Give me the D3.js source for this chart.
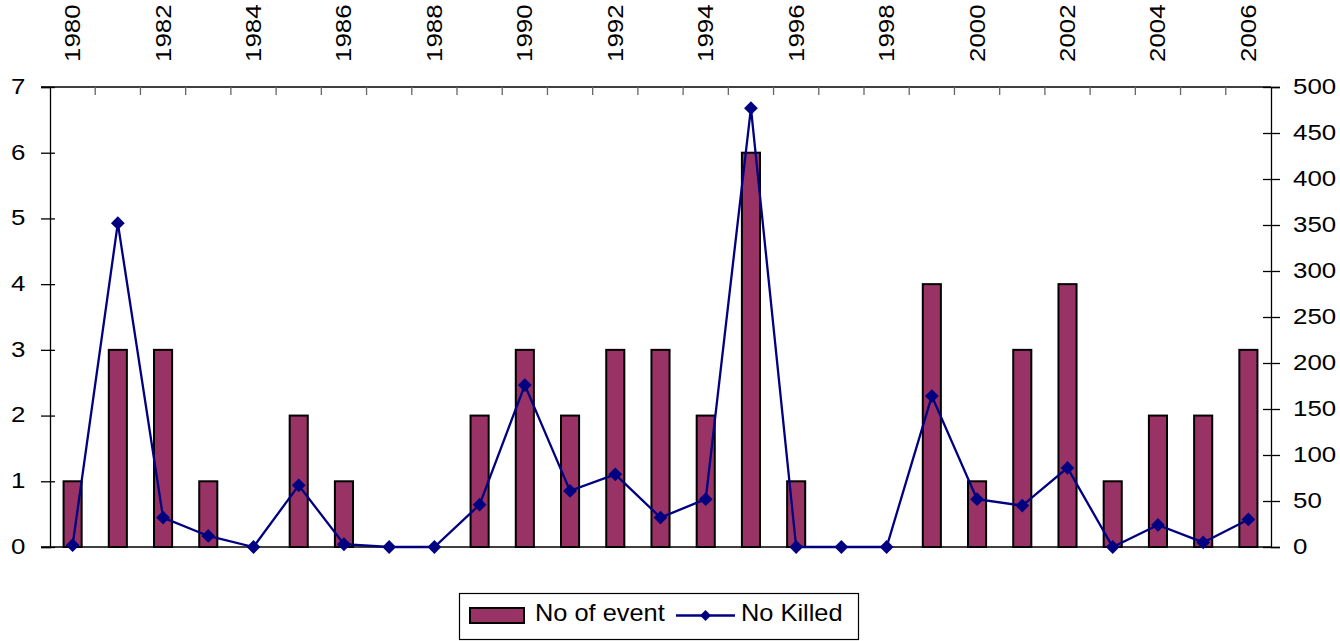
<!DOCTYPE html>
<html>
<head>
<meta charset="utf-8">
<script src="https://cdn.jsdelivr.net/npm/d3@7/dist/d3.min.js"></script>
<style>
  body { margin: 0; background: #fff; }
  svg text { font-family: "Liberation Sans", Arial, sans-serif; fill: #000; }
</style>
</head>
<body>
<svg id="chart" width="1340" height="641"></svg>
<script>
var years = d3.range(1980, 2007).map(String);
var events = [1, 3, 3, 1, 0, 2, 1, 0, 0, 2, 3, 2, 3, 3, 2, 6, 1, 0, 0, 4, 1, 3, 4, 1, 2, 2, 3];
var killed = [2, 352, 32, 12, 0, 67, 3, 0, 0, 46, 176, 61, 79, 32, 52, 477, 0, 0, 0, 164, 52, 45, 86, 0, 24, 5, 30];
var leftTicks = [0, 1, 2, 3, 4, 5, 6, 7];
var rightTicks = [0, 50, 100, 150, 200, 250, 300, 350, 400, 450, 500];

var plotL = 50, plotR = 1271, plotT = 87, plotB = 547;
var fs = 22.5, sx = 1.15; // tick font size and horizontal stretch
var svg = d3.select("#chart");

var x = d3.scaleBand().domain(years).range([plotL, plotR]).padding(0);
var yL = d3.scaleLinear().domain([0, 7]).range([plotB, plotT]);
var yR = d3.scaleLinear().domain([0, 500]).range([plotB, plotT]);

// bottom baseline
svg.append("line")
  .attr("x1", plotL - 9).attr("x2", plotR)
  .attr("y1", plotB).attr("y2", plotB)
  .attr("stroke", "#000").attr("stroke-width", 1.3);

// bars
var bw = x.bandwidth() * 0.4;
svg.append("g").selectAll("rect")
  .data(events)
  .enter().append("rect")
  .attr("x", function (d, i) { return x(years[i]) + (x.bandwidth() - bw) / 2; })
  .attr("y", function (d) { return yL(d); })
  .attr("width", bw)
  .attr("height", function (d) { return plotB - yL(d); })
  .attr("fill", "#993366")
  .attr("stroke", "#000")
  .attr("stroke-width", 2)
  .style("display", function (d) { return d === 0 ? "none" : null; });

// top axis line + ticks between categories
svg.append("line")
  .attr("x1", plotL - 9).attr("x2", plotR)
  .attr("y1", plotT).attr("y2", plotT)
  .attr("stroke", "#000").attr("stroke-width", 1.3);
svg.append("g").selectAll("line")
  .data(years.slice(1))
  .enter().append("line")
  .attr("x1", function (d) { return x(d); })
  .attr("x2", function (d) { return x(d); })
  .attr("y1", plotT).attr("y2", plotT + 8)
  .attr("stroke", "#666").attr("stroke-width", 1.3);

// year labels (even years)
svg.append("g").selectAll("text")
  .data(years.filter(function (d) { return +d % 2 === 0; }))
  .enter().append("text")
  .attr("transform", function (d) {
    return "translate(" + (x(d) + x.bandwidth() / 2 + 7.5) + "," + 62 + ") rotate(-90) scale(" + sx + ",1)";
  })
  .attr("font-size", fs)
  .text(function (d) { return d; });

// left axis
var gl = svg.append("g")
  .attr("transform", "translate(" + plotL + ",0)")
  .call(d3.axisLeft(yL).tickValues(leftTicks).tickSize(9).tickFormat(d3.format("d")));
gl.select(".domain").attr("stroke", "#000").attr("stroke-width", 1.3);
gl.selectAll(".tick line").attr("x1", 5).attr("stroke", "#000").attr("stroke-width", 1.3);
gl.selectAll(".tick text")
  .attr("font-size", fs).attr("font-family", "Liberation Sans, Arial, sans-serif")
  .attr("x", -24.7 / sx).attr("dy", "0.28em")
  .attr("transform", "scale(" + sx + ",1)");

// right axis
var gr = svg.append("g")
  .attr("transform", "translate(" + plotR + ",0)")
  .call(d3.axisRight(yR).tickValues(rightTicks).tickSize(9));
gr.select(".domain").attr("stroke", "#000").attr("stroke-width", 1.3);
gr.selectAll(".tick line").attr("x1", -8).attr("stroke", "#000").attr("stroke-width", 1.3);
gr.selectAll(".tick text")
  .attr("font-size", fs).attr("font-family", "Liberation Sans, Arial, sans-serif")
  .attr("x", 22 / sx).attr("dy", "0.28em")
  .attr("transform", "scale(" + sx + ",1)");

// killed line
var cx = function (d, i) { return x(years[i]) + x.bandwidth() / 2; };
svg.append("path")
  .datum(killed)
  .attr("fill", "none")
  .attr("stroke", "#000080")
  .attr("stroke-width", 2.3)
  .attr("d", d3.line().x(cx).y(function (d) { return yR(d); }));

svg.append("g").selectAll("path")
  .data(killed)
  .enter().append("path")
  .attr("transform", function (d, i) { return "translate(" + cx(d, i) + "," + yR(d) + ") rotate(45)"; })
  .attr("d", d3.symbol().type(d3.symbolSquare).size(95))
  .attr("fill", "#000080");

// legend
var lg = svg.append("g");
lg.append("rect")
  .attr("x", 459.5).attr("y", 593.5).attr("width", 399).attr("height", 46)
  .attr("fill", "#fff").attr("stroke", "#000").attr("stroke-width", 1.2);
lg.append("rect")
  .attr("x", 470).attr("y", 608).attr("width", 54).attr("height", 15)
  .attr("fill", "#993366").attr("stroke", "#000").attr("stroke-width", 2);
lg.append("text").attr("transform", "translate(535,621) scale(1.08,1)").attr("font-size", 23.5).text("No of event");
lg.append("line")
  .attr("x1", 676).attr("x2", 735).attr("y1", 615.5).attr("y2", 615.5)
  .attr("stroke", "#000080").attr("stroke-width", 2.3);
lg.append("path")
  .attr("transform", "translate(705.5,615.5) rotate(45)")
  .attr("d", d3.symbol().type(d3.symbolSquare).size(60))
  .attr("fill", "#000080");
lg.append("text").attr("transform", "translate(741,621) scale(1.08,1)").attr("font-size", 23.5).text("No Killed");
</script>
</body>
</html>
